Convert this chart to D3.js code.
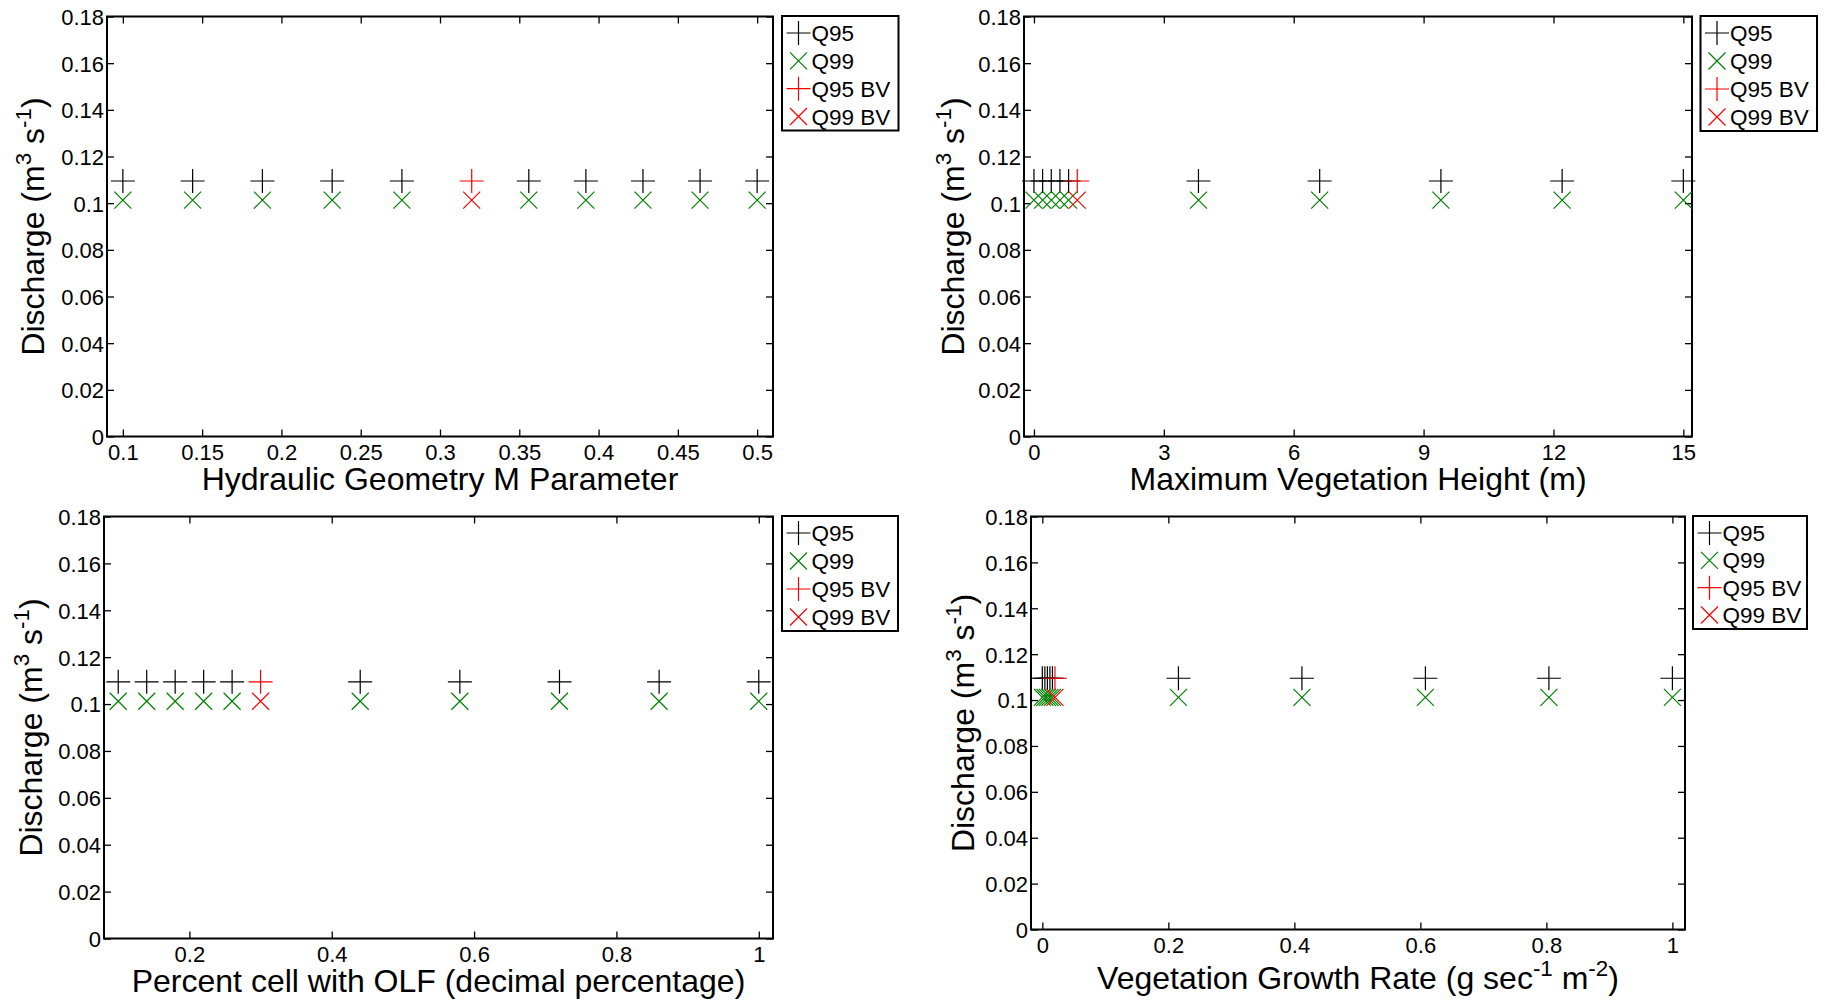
<!DOCTYPE html>
<html>
<head>
<meta charset="utf-8">
<script src="https://cdn.jsdelivr.net/npm/d3@7"></script>
<style>
  html, body { margin: 0; padding: 0; background: #fff; }
  svg { display: block; font-family: "Liberation Sans", Arial, Helvetica, sans-serif; }
</style>
</head>
<body>
<svg id="chart" width="1825" height="1001"></svg>
<script>
// ---------- DATA ----------
const seriesNames = ["Q95", "Q99", "Q95 BV", "Q99 BV"];
const yTicks = [0, 0.02, 0.04, 0.06, 0.08, 0.1, 0.12, 0.14, 0.16, 0.18];
const yTickLabels = ["0", "0.02", "0.04", "0.06", "0.08", "0.1", "0.12", "0.14", "0.16", "0.18"];

// Panel 1: Hydraulic Geometry M Parameter
const hgmX   = [0.1, 0.144, 0.188, 0.232, 0.276, 0.356, 0.392, 0.428, 0.464, 0.5];
const hgmQ95 = [0.1095, 0.1095, 0.1095, 0.1095, 0.1095, 0.1095, 0.1095, 0.1095, 0.1095, 0.1095];
const hgmQ99 = [0.1013, 0.1013, 0.1013, 0.1013, 0.1013, 0.1013, 0.1013, 0.1013, 0.1013, 0.1013];
const hgmBVX = [0.32];
const hgmBVQ95 = [0.1095];
const hgmBVQ99 = [0.1013];
const hgmTicks = [0.1, 0.15, 0.2, 0.25, 0.3, 0.35, 0.4, 0.45, 0.5];
const hgmTickLabels = ["0.1", "0.15", "0.2", "0.25", "0.3", "0.35", "0.4", "0.45", "0.5"];

// Panel 2: Maximum Vegetation Height
const mvhX   = [0, 0.2, 0.4, 0.6, 0.8, 3.8, 6.6, 9.4, 12.2, 15];
const mvhQ95 = [0.1095, 0.1095, 0.1095, 0.1095, 0.1095, 0.1095, 0.1095, 0.1095, 0.1095, 0.1095];
const mvhQ99 = [0.1013, 0.1013, 0.1013, 0.1013, 0.1013, 0.1013, 0.1013, 0.1013, 0.1013, 0.1013];
const mvhBVX = [1.0];
const mvhBVQ95 = [0.1095];
const mvhBVQ99 = [0.1013];
const mvhTicks = [0, 3, 6, 9, 12, 15];
const mvhTickLabels = ["0", "3", "6", "9", "12", "15"];

// Panel 3: Percent cell with OLF
const olfX   = [0.1, 0.14, 0.18, 0.22, 0.26, 0.44, 0.58, 0.72, 0.86, 1.0];
const olfQ95 = [0.1095, 0.1095, 0.1095, 0.1095, 0.1095, 0.1095, 0.1095, 0.1095, 0.1095, 0.1095];
const olfQ99 = [0.1012, 0.1012, 0.1012, 0.1012, 0.1012, 0.1012, 0.1012, 0.1012, 0.1012, 0.1012];
const olfBVX = [0.3];
const olfBVQ95 = [0.1095];
const olfBVQ99 = [0.1012];
const olfTicks = [0.2, 0.4, 0.6, 0.8, 1];
const olfTickLabels = ["0.2", "0.4", "0.6", "0.8", "1"];

// Panel 4: Vegetation Growth Rate
const vgrX   = [0, 0.004, 0.008, 0.012, 0.016, 0.216, 0.412, 0.608, 0.804, 1.0];
const vgrQ95 = [0.1095, 0.1095, 0.1095, 0.1095, 0.1095, 0.1095, 0.1095, 0.1095, 0.1095, 0.1095];
const vgrQ99 = [0.1012, 0.1012, 0.1012, 0.1012, 0.1012, 0.1012, 0.1012, 0.1012, 0.1012, 0.1012];
const vgrBVX = [0.02];
const vgrBVQ95 = [0.1095];
const vgrBVQ99 = [0.1012];
const vgrTicks = [0, 0.2, 0.4, 0.6, 0.8, 1];
const vgrTickLabels = ["0", "0.2", "0.4", "0.6", "0.8", "1"];

// ---------- LAYOUT ----------
const panels = [
  { box: {l: 107, r: 773, t: 16.5, b: 436.5}, xDom: [0.09, 0.51], xTicks: hgmTicks, xLabels: hgmTickLabels,
    x: hgmX, q95: hgmQ95, q99: hgmQ99, bvx: hgmBVX, bv95: hgmBVQ95, bv99: hgmBVQ99,
    xTitle: [["Hydraulic Geometry M Parameter", 0]], xTitleOff: 53, yTitleOff: 63,
    legend: {l: 782, t: 16, w: 116.5, h: 114.5} },
  { box: {l: 1024, r: 1692, t: 16.5, b: 436.5}, xDom: [-0.23, 15.2], xTicks: mvhTicks, xLabels: mvhTickLabels,
    x: mvhX, q95: mvhQ95, q99: mvhQ99, bvx: mvhBVX, bv95: mvhBVQ95, bv99: mvhBVQ99,
    xTitle: [["Maximum Vegetation Height (m)", 0]], xTitleOff: 53, yTitleOff: 60,
    legend: {l: 1700.5, t: 16, w: 116.5, h: 115} },
  { box: {l: 104, r: 773, t: 516.5, b: 938.5}, xDom: [0.08, 1.02], xTicks: olfTicks, xLabels: olfTickLabels,
    x: olfX, q95: olfQ95, q99: olfQ99, bvx: olfBVX, bv95: olfBVQ95, bv99: olfBVQ99,
    xTitle: [["Percent cell with OLF (decimal percentage)", 0]], xTitleOff: 53, yTitleOff: 62,
    legend: {l: 782, t: 516, w: 116, h: 115} },
  { box: {l: 1031, r: 1685, t: 516.5, b: 929.5}, xDom: [-0.018, 1.02], xTicks: vgrTicks, xLabels: vgrTickLabels,
    x: vgrX, q95: vgrQ95, q99: vgrQ99, bvx: vgrBVX, bv95: vgrBVQ95, bv99: vgrBVQ99,
    xTitle: [["Vegetation Growth Rate (g sec", 0], ["-1", 1], [" m", 0], ["-2", 1], [")", 0]], xTitleOff: 59, yTitleOff: 57,
    legend: {l: 1693, t: 516, w: 114, h: 113} }
];

const BLACK = "#000000", GREEN = "#008000", RED = "#ff0000";
const seriesStyle = [
  {name: seriesNames[0], shape: "plus", color: BLACK},
  {name: seriesNames[1], shape: "x", color: GREEN},
  {name: seriesNames[2], shape: "plus", color: RED},
  {name: seriesNames[3], shape: "x", color: RED}
];
const PLUS = 12, XS = 8.5, TICKLEN = 7;
const TICK_FS = 22, LABEL_FS = 32, LEGEND_FS = 22.5;
const FONT = "'Liberation Sans', Arial, Helvetica, sans-serif";

const svg = d3.select("#chart");

function markerPath(shape, cx, cy) {
  if (shape === "plus") {
    return `M${cx - PLUS},${cy}H${cx + PLUS}M${cx},${cy - PLUS}V${cy + PLUS}`;
  }
  return `M${cx - XS},${cy - XS}L${cx + XS},${cy + XS}M${cx - XS},${cy + XS}L${cx + XS},${cy - XS}`;
}

panels.forEach(p => {
  const g = svg.append("g");
  const {l, r, t, b} = p.box;
  const xs = d3.scaleLinear().domain(p.xDom).range([l, r]);
  const ys = d3.scaleLinear().domain([0, 0.18]).range([b, t]);

  // Axes with inward ticks (bottom/left labelled, top/right mirror)
  const bottom = d3.axisBottom(xs).tickValues(p.xTicks).tickSize(-TICKLEN).tickPadding(10)
    .tickFormat((d, i) => p.xLabels[i]);
  const top = d3.axisTop(xs).tickValues(p.xTicks).tickSize(-TICKLEN);
  const left = d3.axisLeft(ys).tickValues(yTicks).tickSize(-TICKLEN).tickPadding(3)
    .tickFormat((d, i) => yTickLabels[i]);
  const right = d3.axisRight(ys).tickValues(yTicks).tickSize(-TICKLEN);

  const axes = [
    g.append("g").attr("transform", `translate(0,${b})`).call(bottom),
    g.append("g").attr("transform", `translate(0,${t})`).call(top),
    g.append("g").attr("transform", `translate(${l},0)`).call(left),
    g.append("g").attr("transform", `translate(${r},0)`).call(right)
  ];
  axes.forEach(a => {
    a.select(".domain").remove();
    a.attr("font-family", FONT);
    a.selectAll(".tick line").attr("stroke", "#000").attr("stroke-width", 1.3);
    a.selectAll(".tick text").attr("fill", "#000").style("font-size", TICK_FS + "px")
      .style("font-family", FONT);
  });
  // mirror axes carry no labels
  axes[1].selectAll(".tick text").remove();
  axes[3].selectAll(".tick text").remove();
  axes[2].selectAll(".tick text").attr("x", -3).attr("dy", "0.36em");
  axes[0].selectAll(".tick text").attr("dy", "0.72em").attr("y", 8);

  // Frame
  g.append("rect").attr("x", l).attr("y", t).attr("width", r - l).attr("height", b - t)
    .attr("fill", "none").attr("stroke", "#000").attr("stroke-width", 2);

  // Markers
  const sets = [
    {x: p.x, y: p.q95, st: seriesStyle[0]},
    {x: p.x, y: p.q99, st: seriesStyle[1]},
    {x: p.bvx, y: p.bv95, st: seriesStyle[2]},
    {x: p.bvx, y: p.bv99, st: seriesStyle[3]}
  ];
  sets.forEach(s => {
    g.append("g").selectAll("path").data(s.x.map((xv, i) => [xv, s.y[i]])).join("path")
      .attr("d", d => markerPath(s.st.shape, xs(d[0]), ys(d[1])))
      .attr("fill", "none").attr("stroke", s.st.color).attr("stroke-width", 1.2);
  });

  // X title
  const xt = g.append("text").attr("x", (l + r) / 2).attr("y", b + p.xTitleOff)
    .attr("text-anchor", "middle").style("font-size", LABEL_FS + "px")
    .style("font-family", FONT).attr("fill", "#000");
  let sup = false;
  p.xTitle.forEach(([txt, isSup]) => {
    const ts = xt.append("tspan").text(txt);
    if (isSup && !sup) { ts.attr("dy", -13).style("font-size", (LABEL_FS * 0.7) + "px"); sup = true; }
    else if (!isSup && sup) { ts.attr("dy", 13); sup = false; }
  });

  // Y title
  const ycx = l - p.yTitleOff, ycy = (t + b) / 2;
  const yt = g.append("text").attr("transform", `translate(${ycx},${ycy}) rotate(-90)`)
    .attr("text-anchor", "middle").style("font-size", LABEL_FS + "px")
    .style("font-family", FONT).attr("fill", "#000");
  yt.append("tspan").text("Discharge (m");
  yt.append("tspan").text("3").attr("dy", -13).style("font-size", (LABEL_FS * 0.7) + "px");
  yt.append("tspan").text(" s").attr("dy", 13);
  yt.append("tspan").text("-1").attr("dy", -13).style("font-size", (LABEL_FS * 0.7) + "px");
  yt.append("tspan").text(")").attr("dy", 13);

  // Legend
  const L = p.legend;
  const lg = g.append("g");
  lg.append("rect").attr("x", L.l).attr("y", L.t).attr("width", L.w).attr("height", L.h)
    .attr("fill", "#fff").attr("stroke", "#000").attr("stroke-width", 2);
  const rowStep = (L.h - 31) / 3;
  seriesStyle.forEach((st, i) => {
    const cy = L.t + 17 + i * rowStep;
    const cx = L.l + 16.5;
    lg.append("path").attr("d", markerPath(st.shape, cx, cy))
      .attr("fill", "none").attr("stroke", st.color).attr("stroke-width", 1.2);
    lg.append("text").attr("x", L.l + 29.5).attr("y", cy + 8).text(st.name)
      .style("font-size", LEGEND_FS + "px").style("font-family", FONT).attr("fill", "#000");
  });
});
</script>
</body>
</html>
